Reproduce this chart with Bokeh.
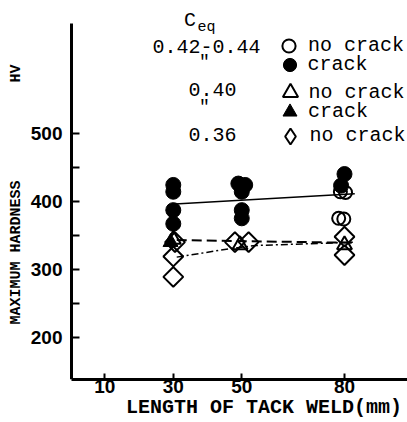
import numpy as np
from bokeh.plotting import figure
from bokeh.models import FixedTicker, Label, Legend, LegendItem, Range1d
from bokeh.embed import file_html
from bokeh.resources import INLINE

# ---------------- data ----------------
x_ticks = [10, 30, 50, 80]
y_ticks = [200, 300, 400, 500]
y_minor = [250, 350, 450]

# Ceq 0.42-0.44, crack (filled circles)
crack_hi_x = [30, 30, 30, 30, 49, 51, 50, 50, 50, 80, 79]
crack_hi_y = [424, 414, 387, 367, 426, 424, 414, 387, 375, 440, 423]
# Ceq 0.42-0.44, no crack (open circles)
nocrack_hi_x = [78.8, 80.3, 78.3, 79.8]
nocrack_hi_y = [414, 413, 375, 374]
# Ceq 0.40, no crack (open triangles)
nocrack_40_x = [30, 49.5, 80]
nocrack_40_y = [344, 336, 336]
# Ceq 0.40, crack (filled triangles)
crack_40_x = [29.2]
crack_40_y = [340]
# Ceq 0.36, no crack (open diamonds)
nocrack_36_x = [30.5, 30, 30, 48, 52, 80, 80]
nocrack_36_y = [340, 319, 289, 340, 340, 348, 321]

# trend lines
fit_hi_x = [30.5, 83]
fit_hi_y = [396, 411]
fit_40_x = [31, 83]
fit_40_y = [343, 339]
fit_36_x = [31, 46, 54, 83]
fit_36_y = [318, 330, 335, 340]

ceq_labels = ["0.42-0.44", "0.40", "0.36"]
x_title = "LENGTH OF TACK WELD(mm)"
y_title = "MAXIMUM HARDNESS"
y_unit = "HV"

NB = "\u00a0"

# ---------------- figure ----------------
FB = 379                 # frame bottom (px from top)
X0, X1 = 0.27, 98.4      # visible x-axis extent
PX_PER_X = 3.424
Y0, Y_TOP = 138.3, 661.1
PX_PER_Y = 0.681
p = figure(width=407, height=422, output_backend="svg", toolbar_location=None,
           x_range=Range1d(X0 - 71 / PX_PER_X, X0 - 71 / PX_PER_X + 407 / PX_PER_X),
           y_range=Range1d(Y0, Y0 + FB / PX_PER_Y),
           min_border_left=0, min_border_right=0, min_border_top=0,
           min_border_bottom=422 - FB)
p.outline_line_color = None
p.xgrid.grid_line_color = None
p.ygrid.grid_line_color = None
p.background_fill_color = "white"
p.border_fill_color = "white"

for ax in (p.xaxis[0], p.yaxis[0]):
    ax.axis_line_width = 3
    ax.axis_line_color = "black"
    ax.major_tick_line_width = 2
    ax.minor_tick_line_width = 2
    ax.major_tick_out = 0
    ax.minor_tick_out = 0
    ax.major_label_text_font = "Liberation Sans"
    ax.major_label_text_font_style = "bold"
    ax.major_label_text_font_size = "19px"
    ax.major_label_text_color = "black"
    ax.axis_label_text_font = "Liberation Mono"
    ax.axis_label_text_font_style = "bold"
    ax.axis_label_text_color = "black"
    ax.axis_label_standoff = 0

yax = p.yaxis[0]
yax.fixed_location = X0
yax.major_tick_in = 8
yax.minor_tick_in = 8
yax.major_label_standoff = 9
yax.bounds = (Y0, Y_TOP)
yax.ticker = FixedTicker(ticks=y_ticks, minor_ticks=y_minor)

xax = p.xaxis[0]
xax.bounds = (X0, X1)
xax.major_tick_in = 6
xax.major_label_standoff = 0
xax.ticker = FixedTicker(ticks=x_ticks, minor_ticks=[])
xax.axis_label = NB * 10 + x_title
xax.axis_label_text_font_size = "20px"
xax.axis_label_standoff = 0

# lines
p.line(fit_hi_x, fit_hi_y, line_color="black", line_width=1.5)
p.line(fit_40_x, fit_40_y, line_color="black", line_width=2, line_dash="10 5")
p.line(fit_36_x, fit_36_y, line_color="black", line_width=1.5, line_dash="7 3 2 3")

# markers
r_open_c = p.scatter(nocrack_hi_x, nocrack_hi_y, marker="circle", size=13,
                     fill_color=None, line_color="black", line_width=2)
r_fill_c = p.scatter(crack_hi_x, crack_hi_y, marker="circle", size=15,
                     fill_color="black", line_color="black")
r_open_t = p.scatter(nocrack_40_x, nocrack_40_y, marker="triangle", size=15,
                     fill_color=None, line_color="black", line_width=2)
r_fill_t = p.scatter(crack_40_x, crack_40_y, marker="triangle", size=15,
                     fill_color="black", line_color="black")
r_dia = p.scatter(nocrack_36_x, nocrack_36_y, marker="square", size=14, angle=np.pi / 4,
                  fill_color=None, line_color="black", line_width=2)
# legend-only glyph for the diamond entry
r_dia_leg = p.scatter(nocrack_36_x, nocrack_36_y, marker="diamond", size=16,
                      fill_color=None, line_color="black", line_width=2, visible=False)


def leg(renderer, label, cx, cy, g):
    lg = Legend(items=[LegendItem(label=label, renderers=[renderer])],
                location=(cx - g / 2, FB - (cy + g / 2)),
                glyph_width=g, glyph_height=g, label_height=g,
                label_standoff=int(round(308 - (cx + g / 2))),
                padding=0, margin=0, border_line_color=None,
                background_fill_alpha=0,
                label_text_font="Liberation Mono", label_text_font_size="20px",
                label_text_color="black")
    p.add_layout(lg)


leg(r_open_c, "no crack", 288.5, 45, 33)
leg(r_fill_c, "crack", 289, 64, 33)
leg(r_open_t, "no crack", 289.5, 92, 38)
leg(r_fill_t, "crack", 289.5, 111, 35)
leg(r_dia_leg, "no crack", 289.5, 135.5, 40)


def lab(text, cx, cy, size, font="Liberation Mono", style="normal", angle=0.0):
    p.add_layout(Label(x=cx, y=FB - cy, x_units="screen", y_units="screen",
                       text=text, text_font=font, text_font_size=f"{size}px",
                       text_font_style=style, text_align="center", angle=angle,
                       text_baseline="middle", text_color="black"))


lab("C", 189.5, 20, 20)
lab("eq", 206, 27, 15)
lab(ceq_labels[0], 206, 46, 20)
lab('"', 204, 61, 18)
lab(ceq_labels[1], 212, 89, 20)
lab('"', 204, 106, 18)
lab(ceq_labels[2], 212, 134, 20)

lab(y_title, 16, 252, 15, style="bold", angle=np.pi / 2)
lab(y_unit, 16, 73, 15, style="bold", angle=np.pi / 2)

open("out.html", "w").write(file_html(p, INLINE))
